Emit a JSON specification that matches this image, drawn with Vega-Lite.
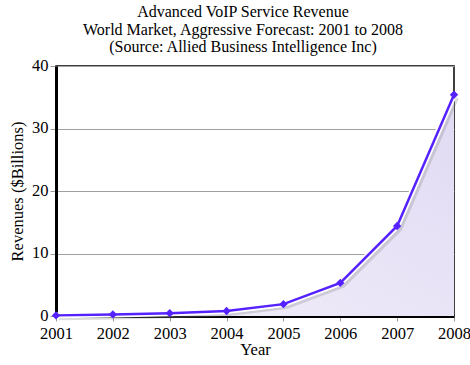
{
  "$schema": "https://vega.github.io/schema/vega-lite/v6.json",
  "autosize": "none",
  "width": 398,
  "height": 250,
  "padding": {"left": 56, "top": 66, "right": 16, "bottom": 49},
  "background": "white",
  "title": {
    "text": ["Advanced VoIP Service Revenue", "World Market, Aggressive Forecast: 2001 to 2008", "(Source: Allied Business Intelligence Inc)"],
    "font": "Liberation Serif",
    "fontSize": 16,
    "fontWeight": "normal",
    "color": "black",
    "lineHeight": 17.5,
    "anchor": "middle",
    "dx": -12,
    "offset": 2
  },
  "config": {
    "view": {"stroke": "black", "strokeWidth": 1.5},
    "axis": {
      "labelFont": "Liberation Serif",
      "titleFont": "Liberation Serif",
      "labelFontSize": 16.5,
      "titleFontSize": 16.5,
      "titleFontWeight": "normal",
      "labelColor": "black",
      "titleColor": "black"
    }
  },
  "data": {
    "values": [
      {"Year": "2001", "Revenue": 0.1},
      {"Year": "2002", "Revenue": 0.25},
      {"Year": "2003", "Revenue": 0.45},
      {"Year": "2004", "Revenue": 0.8},
      {"Year": "2005", "Revenue": 1.9},
      {"Year": "2006", "Revenue": 5.3},
      {"Year": "2007", "Revenue": 14.4},
      {"Year": "2008", "Revenue": 35.4}
    ]
  },
  "encoding": {
    "x": {
      "field": "Year",
      "type": "ordinal",
      "scale": {"type": "point", "padding": 0},
      "axis": {
        "title": "Year",
        "labelAngle": 0,
        "domain": true,
        "domainColor": "black",
        "domainWidth": 3,
        "tickColor": "#999999",
        "tickSize": 5,
        "labelPadding": 4,
        "titlePadding": 0,
        "grid": false
      }
    },
    "y": {
      "field": "Revenue",
      "type": "quantitative",
      "scale": {"domain": [0, 40], "nice": false},
      "axis": {
        "title": "Revenues ($Billions)",
        "values": [0, 10, 20, 30, 40],
        "domainColor": "black",
        "domainWidth": 3,
        "tickColor": "#999999",
        "tickSize": 6,
        "labelPadding": 2,
        "labelOffset": -1,
        "titlePadding": 6,
        "grid": true,
        "gridColor": "#a0a0a0",
        "gridWidth": 1.2
      }
    }
  },
  "layer": [
    {
      "mark": {
        "type": "area",
        "color": {
          "gradient": "linear",
          "x1": 0, "y1": 1, "x2": 1, "y2": 0,
          "stops": [
            {"offset": 0, "color": "#f2effa"},
            {"offset": 1, "color": "#e0daf3"}
          ]
        }
      }
    },
    {
      "mark": {"type": "line", "color": "#888888", "strokeWidth": 4, "opacity": 0.3, "xOffset": 3, "yOffset": 3}
    },
    {
      "mark": {"type": "line", "color": "white", "strokeWidth": 6}
    },
    {
      "mark": {"type": "line", "color": "#5522ff", "strokeWidth": 2.5}
    },
    {
      "mark": {"type": "point", "shape": "diamond", "filled": true, "size": 70, "color": "#5522ff", "opacity": 1}
    }
  ]
}
